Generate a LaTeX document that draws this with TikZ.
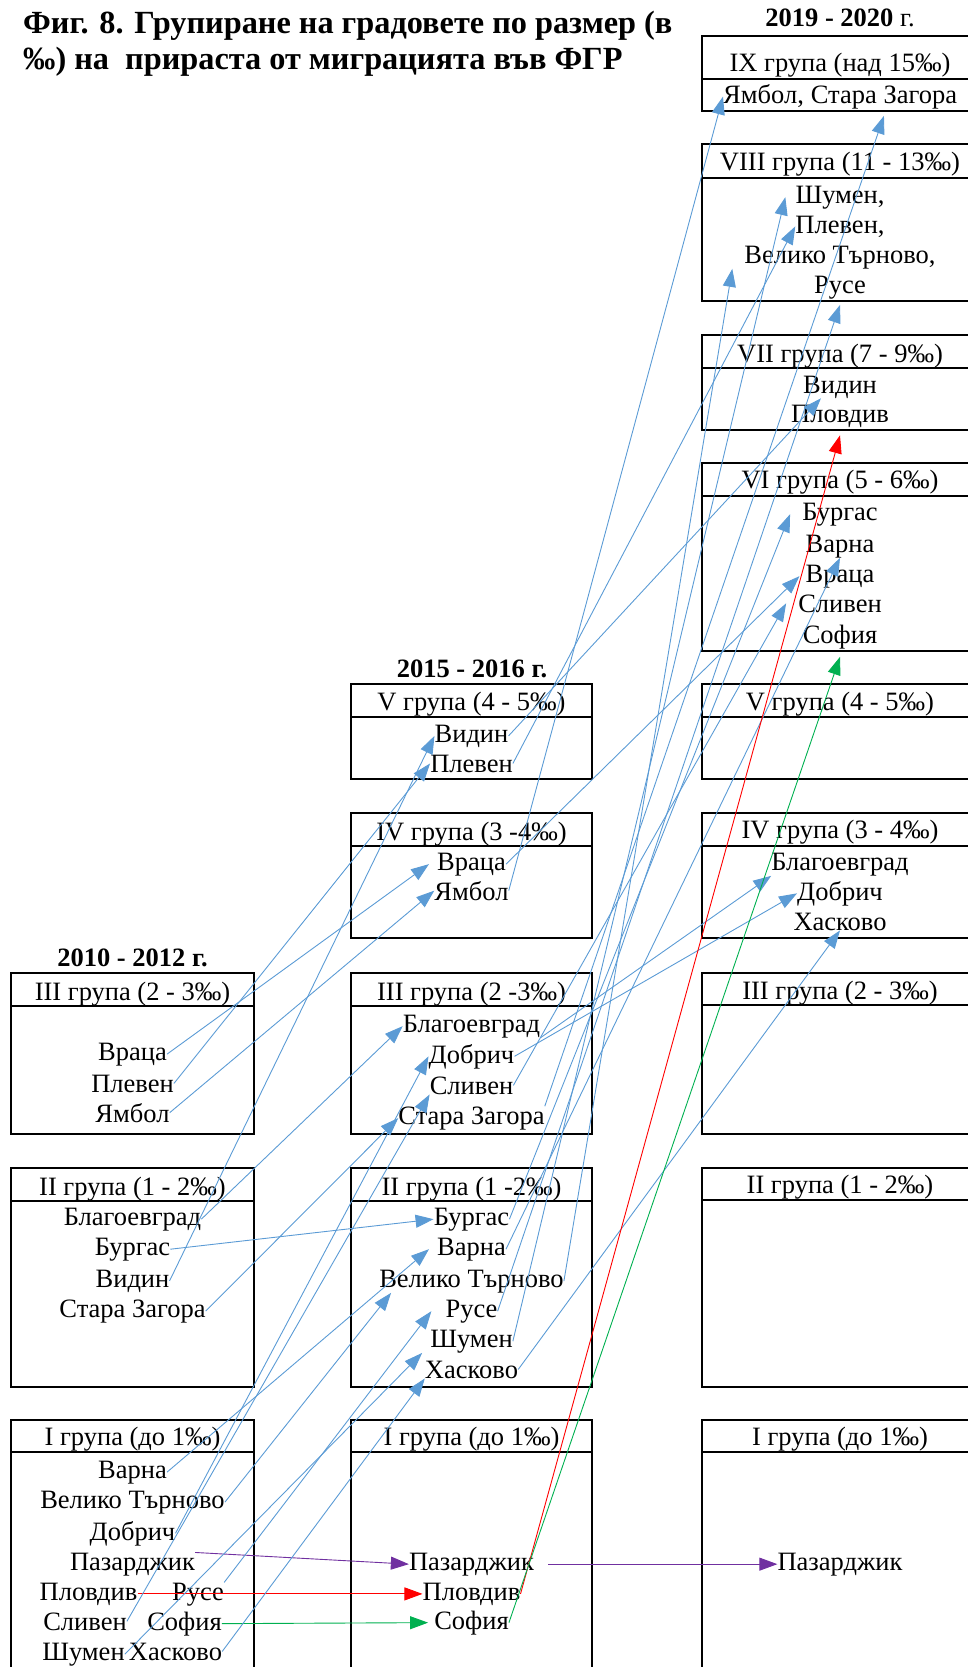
\documentclass[tikz,border=0pt]{standalone}
\usepackage{fontspec}
\setmainfont{Liberation Serif}
\usepackage{tikz}
\usetikzlibrary{arrows.meta}
\definecolor{migblue}{HTML}{5B9BD5}
\definecolor{migred}{HTML}{FF0000}
\definecolor{miggreen}{HTML}{00B050}
\definecolor{migpurple}{HTML}{7030A0}

\begin{document}
\begin{tikzpicture}[x=1pt, y=-1pt, font=\fontsize{26.5}{30.5}\selectfont,
  item/.style={inner sep=0pt, anchor=base},
  yr/.style={inner sep=0pt, anchor=base, font=\fontsize{26.5}{30.5}\selectfont\bfseries},
  frame/.style={line width=1.4pt},
  mig/.style={-{Triangle[length=18pt,width=13pt]}, line width=0.9pt, color=migblue}]
\useasboundingbox (0,0) rectangle (968,1667);
% title
\node[anchor=base west, inner sep=0pt, font=\fontsize{32.3}{36}\selectfont\bfseries] (title1) at (23,34) {Фиг. 8. Групиране на градовете по размер (в};
\node[anchor=base west, inner sep=0pt, font=\fontsize{32.3}{36}\selectfont\bfseries] (title2) at (23,70) {‰) на\ \ прираста от миграцията във ФГР};
% periods
\node[yr] (yr1) at (132.5,966) {2010 - 2012 г.};
\node[yr] (yr2) at (472,677) {2015 - 2016 г.};
\node[yr] (yr3) at (840,27) {2019 - 2020 \textmd{г.}};
% group frames: left/right/top/separator/bottom
\foreach \xa/\xb/\ya/\ys/\yb in {11/254/973/1006/1134, 11/254/1168/1201/1387, 11/254/1420/1452/1700,
    351/592/684/717/779, 351/592/813/846/938, 351/592/973/1006/1134, 351/592/1168/1201/1387, 351/592/1420/1452/1700,
    702/990/36/79/111, 702/990/144/178/301, 702/990/335/368/430, 702/990/463/496/651, 702/990/684/717/779,
    702/990/813/846/938, 702/990/973/1005/1134, 702/990/1168/1200/1387, 702/990/1420/1452/1700}
  {\draw[frame] (\xa,\ya) rectangle (\xb,\yb);
   \draw[frame] (\xa,\ys) -- (\xb,\ys);}
% group headers
\foreach \x/\y/\t [count=\i] in {132.5/1000/{III група (2 - 3‰)}, 132.5/1195/{II група (1 - 2‰)}, 132.5/1445/{I група (до 1‰)},
    471.5/710/{V група (4 - 5‰)}, 471.5/840/{IV група (3 -4‰)}, 471.5/1000/{III група (2 -3‰)},
    471.5/1195/{II група (1 -2‰)}, 471.5/1445/{I група (до 1‰)},
    840/72/{IX група (над 15‰)}, 840/170/{VIII група (11 - 13‰)}, 840/362/{VII група (7 - 9‰)},
    840/488/{VI група (5 - 6‰)}, 840/710/{V група (4 - 5‰)}, 840/838/{IV група (3 - 4‰)},
    840/999/{III група (2 - 3‰)}, 840/1193/{II група (1 - 2‰)}, 840/1445/{I група (до 1‰)}}
  \node[item] (hd\i) at (\x,\y) {\t};

% 2010 - 2012
\node[item] (l3vra) at (132.5,1060) {Враца};
\node[item] (l3plv) at (132.5,1092) {Плевен};
\node[item] (l3yam) at (132.5,1122) {Ямбол};
\node[item] (l2blg) at (132.5,1225) {Благоевград};
\node[item] (l2bur) at (132.5,1255) {Бургас};
\node[item] (l2vid) at (132.5,1287) {Видин};
\node[item] (l2stz) at (132.5,1317) {Стара Загора};
\node[item] (l1var) at (132.5,1478) {Варна};
\node[item] (l1vtr) at (132.5,1508) {Велико Търново};
\node[item] (l1dob) at (132.5,1540) {Добрич};
\node[item] (l1paz) at (132.5,1570) {Пазарджик};
\node[item] (l1plo) at (88.5,1600) {Пловдив};
\node[item] (l1rus) at (198,1600) {Русе};
\node[item] (l1sli) at (85,1630) {Сливен};
\node[item] (l1sof) at (184.5,1630) {София};
\node[item] (l1shu) at (83.5,1660) {Шумен};
\node[item] (l1has) at (175.5,1660) {Хасково};

% 2015 - 2016
\node[item] (m5vid) at (471.5,742) {Видин};
\node[item] (m5plv) at (471.5,772) {Плевен};
\node[item] (m4vra) at (471.5,870) {Враца};
\node[item] (m4yam) at (471.5,900) {Ямбол};
\node[item] (m3blg) at (471.5,1032) {Благоевград};
\node[item] (m3dob) at (471.5,1063) {Добрич};
\node[item] (m3sli) at (471.5,1094) {Сливен};
\node[item] (m3stz) at (471.5,1124) {Стара Загора};
\node[item] (m2bur) at (471.5,1225) {Бургас};
\node[item] (m2var) at (471.5,1255) {Варна};
\node[item] (m2vtr) at (471.5,1287) {Велико Търново};
\node[item] (m2rus) at (471.5,1317) {Русе};
\node[item] (m2shu) at (471.5,1347) {Шумен};
\node[item] (m2has) at (471.5,1378) {Хасково};
\node[item] (m1paz) at (471.5,1570) {Пазарджик};
\node[item] (m1plo) at (471.5,1600) {Пловдив};
\node[item] (m1sof) at (471.5,1629) {София};

% 2019 - 2020
\node[item, anchor=base west] (r9yam) at (723,104) {Ямбол,};
\node[item, anchor=base west] (r9stz) at ([xshift=6.6]r9yam.base east) {Стара Загора};
\node[item] (r8shu) at (840,203) {Шумен,};
\node[item] (r8plv) at (840,233) {Плевен,};
\node[item] (r8vtr) at (840,263) {Велико Търново,};
\node[item] (r8rus) at (840,293) {Русе};
\node[item] (r7vid) at (840,393) {Видин};
\node[item] (r7plo) at (840,422) {Пловдив};
\node[item] (r6bur) at (840,520) {Бургас};
\node[item] (r6var) at (840,552) {Варна};
\node[item] (r6vra) at (840,582) {Враца};
\node[item] (r6sli) at (840,612) {Сливен};
\node[item] (r6sof) at (840,643) {София};
\node[item] (r4blg) at (840,870) {Благоевград};
\node[item] (r4dob) at (840,900) {Добрич};
\node[item] (r4has) at (840,930) {Хасково};
\node[item] (r1paz) at (840,1570) {Пазарджик};

% moves 2010-2012 -> 2015-2016
\draw[mig] (l3vra.east) -- ([xshift=-8]m4vra.west);
\draw[mig] (l3plv.east) -- (m5plv.west);
\draw[mig] (l3yam.east) -- (m4yam.west);
\draw[mig] (l2blg.east) -- (m3blg.west);
\draw[mig] (l2bur.east) -- (m2bur.west);
\draw[mig] (l2vid.east) -- (m5vid.west);
\draw[mig] (l2stz.east) -- (m3stz.west);
\draw[mig] (l1var.east) -- ([xshift=-8]m2var.west);
\draw[mig] (l1vtr.east) -- ([xshift=12]m2vtr.south west);
\draw[mig] (l1dob.east) -- (m3dob.west);
\draw[mig, color=migpurple] (l1paz.north east) -- (m1paz.west);
\draw[mig, color=migred] (l1plo.east) -- (m1plo.west);
\draw[mig] (l1rus.north east) -- ([xshift=-14]m2rus.west);
\draw[mig] (l1sli.east) -- (m3sli.south west);
\draw[mig, color=miggreen] (l1sof.east) -- ([xshift=-6]m1sof.west);
\draw[mig] (l1shu.east) -- ([xshift=-8]m2shu.south west);
\draw[mig] (l1has.east) -- (m2has.south west);

% moves 2015-2016 -> 2019-2020
\draw[mig] (m5vid.east) -- ([xshift=18]r7vid.south west);
\draw[mig] (m5plv.east) -- (r8plv.west);
\draw[mig] (m4vra.east) -- ([xshift=-6]r6vra.west);
\draw[mig] (m4yam.east) -- (r9yam.west);
\draw[mig] (m3blg.south east) -- (r4blg.south west);
\draw[mig] (m3dob.east) -- (r4dob.west);
\draw[mig] (m3sli.east) -- ([xshift=-12]r6sli.west);
\draw[mig] (m3stz.north east) -- ([yshift=-6]r9stz.south);
\draw[mig] (m2bur.east) -- ([xshift=-12]r6bur.west);
\draw[mig] (m2var.east) -- (r6var.south);
\draw[mig] (m2vtr.east) -- ([xshift=-12]r8vtr.south west);
\draw[mig] (m2rus.east) -- ([yshift=-6]r8rus.south);
\draw[mig] (m2shu.east) -- ([xshift=-10]r8shu.west);
\draw[mig] (m2has.east) -- (r4has.south);
\draw[mig, color=migpurple] ([xshift=14]m1paz.east) -- (r1paz.west);
\draw[mig, color=migred] (m1plo.east) -- ([yshift=-8]r7plo.south);
\draw[mig, color=miggreen] (m1sof.east) -- ([yshift=-8]r6sof.south);
\end{tikzpicture}
\end{document}
